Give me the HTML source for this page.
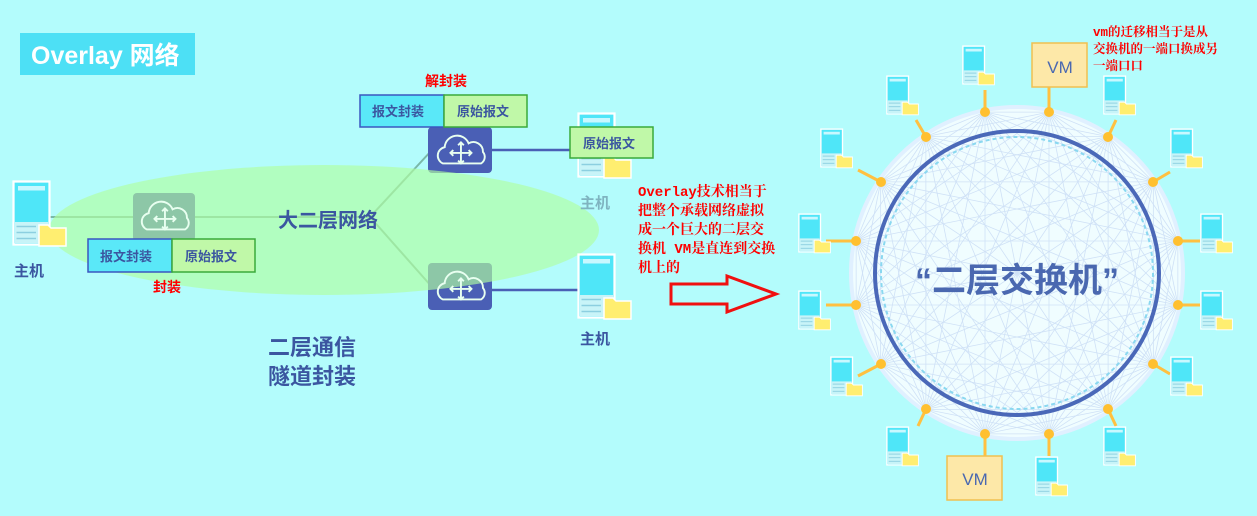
<!DOCTYPE html>
<html><head><meta charset="utf-8"><style>
html,body{margin:0;padding:0;background:#b3fcfc;}
body{width:1257px;height:516px;overflow:hidden;position:relative;font-family:"Liberation Sans","Noto Sans CJK SC",sans-serif;}
svg{position:absolute;left:0;top:0}
.red{position:absolute;color:#f00;font-family:"Liberation Mono","Noto Serif CJK SC",serif;font-weight:bold;}
</style></head><body>
<svg width="1257" height="516" viewBox="0 0 1257 516">
<defs>
<symbol id="host" viewBox="0 0 40 44" overflow="visible">
 <rect x="1" y="1" width="24" height="42" fill="#4fe6f8" stroke="#fff" stroke-width="1.5"/>
 <rect x="4" y="4" width="18" height="3" fill="#c8f8ff"/>
 <rect x="2" y="28" width="22" height="14" fill="#c8f4f8"/>
 <line x1="3" y1="31" x2="16" y2="31" stroke="#8ccfe0"/><line x1="3" y1="35" x2="16" y2="35" stroke="#8ccfe0"/><line x1="3" y1="39" x2="16" y2="39" stroke="#8ccfe0"/>
 <path d="M18 30 h6 l2 2 h10 v12 h-18z" fill="#ffee70" stroke="#fff" stroke-width="1"/>
</symbol>
<symbol id="cloud" viewBox="0 0 64 46">
 <path d="M14 36 a9 9 0 0 1 2-17 a13 13 0 0 1 25-4 a10 10 0 0 1 15 9 a8 8 0 0 1-2 12 z" fill="none" stroke="#e8fff0" stroke-width="2"/>
 <g stroke="#e8fff0" stroke-width="2" fill="none"><line x1="33" y1="14" x2="33" y2="36"/><line x1="22" y1="25" x2="44" y2="25"/>
 <path d="M30 17 l3-3 3 3 M30 33 l3 3 3-3 M25 22 l-3 3 3 3 M41 22 l3 3-3 3"/></g>
</symbol>
</defs>
<rect x="20" y="33" width="175" height="42" fill="#4de0f5"/>
<text x="31" y="64" font-size="25" font-weight="bold" fill="#fff" font-family="Liberation Sans,Noto Sans CJK SC,sans-serif">Overlay 网络</text>
<line x1="50" y1="217" x2="370" y2="217" stroke="#7ab8a8" stroke-width="2"/>
<line x1="370" y1="217" x2="432" y2="150" stroke="#7ab8a8" stroke-width="2"/>
<line x1="370" y1="217" x2="432" y2="287" stroke="#7ab8a8" stroke-width="2"/>
<line x1="492" y1="150" x2="575" y2="150" stroke="#4a5fb5" stroke-width="2.5"/>
<line x1="492" y1="290" x2="578" y2="290" stroke="#4a5fb5" stroke-width="2.5"/>
<rect x="133" y="193" width="62" height="48" rx="4" fill="#4a5fb5"/>
<rect x="428" y="127" width="64" height="46" rx="4" fill="#4a5fb5"/>
<rect x="428" y="263" width="64" height="47" rx="4" fill="#4a5fb5"/>
<ellipse cx="324" cy="230" rx="275" ry="65" fill="#b0ffa0" opacity="0.65"/>
<use href="#cloud" x="133" y="195" width="62" height="44"/>
<use href="#cloud" x="428" y="129" width="64" height="44"/>
<use href="#cloud" x="428" y="265" width="64" height="44"/>
<use href="#host" x="12" y="180" width="60" height="66"/>
<use href="#host" x="577" y="112" width="60" height="66"/>
<use href="#host" x="577" y="250" width="60" height="72"/>
<g font-weight="bold" fill="#3b56a0" font-family="Liberation Sans,Noto Sans CJK SC,sans-serif">
<text x="14" y="276" font-size="15">主机</text>
<text x="580" y="208" font-size="15" fill="#7fb4c0">主机</text>
<text x="580" y="344" font-size="15">主机</text>
<text x="278" y="227" font-size="20">大二层网络</text>
<text x="268" y="355" font-size="22">二层通信</text>
<text x="268" y="384" font-size="22">隧道封装</text>
</g>
<g font-size="13" font-weight="bold" fill="#3b56a0" font-family="Liberation Sans,Noto Sans CJK SC,sans-serif">
<rect x="88" y="239" width="84" height="33" fill="#5ae8f8" stroke="#3b56c0" stroke-width="1.5"/><text x="100" y="261">报文封装</text>
<rect x="172" y="239" width="83" height="33" fill="#c0f8a8" stroke="#3aaa3a" stroke-width="1.5"/><text x="185" y="261">原始报文</text>
<rect x="360" y="95" width="84" height="32" fill="#5ae8f8" stroke="#3b56c0" stroke-width="1.5"/><text x="372" y="116">报文封装</text>
<rect x="444" y="95" width="83" height="32" fill="#c0f8a8" stroke="#3aaa3a" stroke-width="1.5"/><text x="457" y="116">原始报文</text>
<rect x="570" y="127" width="83" height="31" fill="#c0f8a8" stroke="#3aaa3a" stroke-width="1.5"/><text x="583" y="148">原始报文</text>
</g>
<path d="M671 284 H727 V276 L776 294 L727 312 V304 H671 Z" fill="none" stroke="#f01010" stroke-width="3"/>
<circle cx="1017" cy="273" r="166" fill="#f0fdff" stroke="#e0f0ff" stroke-width="4"/>
<g id="chords" stroke="#a8c0ec" stroke-width="0.8" fill="none" opacity="0.45"></g>
<circle cx="1017" cy="273" r="136" fill="none" stroke="#8ad8f0" stroke-width="2" stroke-dasharray="4 3"/>
<circle cx="1017" cy="273" r="142" fill="none" stroke="#4a68b8" stroke-width="4"/>
<text x="1017" y="292" text-anchor="middle" font-size="34" font-weight="bold" fill="#4a68b0" font-family="Liberation Sans,Noto Sans CJK SC,sans-serif">“二层交换机”</text>
<g stroke="#ffc040" stroke-width="3">
<line x1="1049" y1="112" x2="1049" y2="87"/><line x1="1108" y1="137" x2="1116" y2="120"/><line x1="1153" y1="182" x2="1170" y2="172"/>
<line x1="1178" y1="241" x2="1200" y2="241"/><line x1="1178" y1="305" x2="1200" y2="305"/><line x1="1153" y1="364" x2="1170" y2="374"/>
<line x1="1108" y1="409" x2="1116" y2="426"/><line x1="1049" y1="434" x2="1049" y2="456"/><line x1="985" y1="434" x2="985" y2="456"/>
<line x1="926" y1="409" x2="918" y2="426"/><line x1="881" y1="364" x2="858" y2="376"/><line x1="856" y1="305" x2="826" y2="305"/>
<line x1="856" y1="241" x2="826" y2="241"/><line x1="881" y1="182" x2="858" y2="170"/><line x1="926" y1="137" x2="916" y2="120"/><line x1="985" y1="112" x2="985" y2="90"/>
</g>
<g fill="#ffc030">
<circle cx="1049" cy="112" r="5"/><circle cx="1108" cy="137" r="5"/><circle cx="1153" cy="182" r="5"/><circle cx="1178" cy="241" r="5"/>
<circle cx="1178" cy="305" r="5"/><circle cx="1153" cy="364" r="5"/><circle cx="1108" cy="409" r="5"/><circle cx="1049" cy="434" r="5"/>
<circle cx="985" cy="434" r="5"/><circle cx="926" cy="409" r="5"/><circle cx="881" cy="364" r="5"/><circle cx="856" cy="305" r="5"/>
<circle cx="856" cy="241" r="5"/><circle cx="881" cy="182" r="5"/><circle cx="926" cy="137" r="5"/><circle cx="985" cy="112" r="5"/>
</g>
<g>
<use href="#host" x="962" y="45" width="36" height="40"/>
<use href="#host" x="886" y="75" width="36" height="40"/>
<use href="#host" x="820" y="128" width="36" height="40"/>
<use href="#host" x="798" y="213" width="36" height="40"/>
<use href="#host" x="798" y="290" width="36" height="40"/>
<use href="#host" x="830" y="356" width="36" height="40"/>
<use href="#host" x="886" y="426" width="36" height="40"/>
<use href="#host" x="1035" y="456" width="36" height="40"/>
<use href="#host" x="1103" y="426" width="36" height="40"/>
<use href="#host" x="1170" y="356" width="36" height="40"/>
<use href="#host" x="1200" y="290" width="36" height="40"/>
<use href="#host" x="1200" y="213" width="36" height="40"/>
<use href="#host" x="1170" y="128" width="36" height="40"/>
<use href="#host" x="1103" y="75" width="36" height="40"/>
</g>
<rect x="1032" y="43" width="55" height="44" fill="#fde8a8" stroke="#f0c050" stroke-width="1.5"/>
<text x="1060" y="73" text-anchor="middle" font-size="17" fill="#4a68b0" font-family="Liberation Sans,sans-serif">VM</text>
<rect x="947" y="456" width="55" height="44" fill="#fde8a8" stroke="#f0c050" stroke-width="1.5"/>
<text x="975" y="485" text-anchor="middle" font-size="17" fill="#4a68b0" font-family="Liberation Sans,sans-serif">VM</text>
</svg>
<div class="red" style="left:153px;top:277px;font-size:14px;font-family:'Noto Sans CJK SC',sans-serif;">封装</div>
<div class="red" style="left:425px;top:71px;font-size:14px;font-family:'Noto Sans CJK SC',sans-serif;">解封装</div>
<div class="red" style="left:638px;top:184px;font-size:14px;line-height:19px;width:160px;">Overlay技术相当于<br>把整个承载网络虚拟<br>成一个巨大的二层交<br>换机 VM是直连到交换<br>机上的</div>
<div class="red" style="left:1093px;top:25px;font-size:12.5px;line-height:17px;width:170px;">vm的迁移相当于是从<br>交换机的一端口换成另<br>一端口口</div>
<script>
var g=document.getElementById('chords'),cx=1017,cy=273,r=164,p=[];
for(var i=0;i<16;i++){var a=(-78.75+22.5*i)*Math.PI/180;p.push([cx+r*Math.cos(a),cy+r*Math.sin(a)]);}
var s='';for(var i=0;i<16;i++)for(var j=i+1;j<16;j++){s+='<line x1="'+p[i][0]+'" y1="'+p[i][1]+'" x2="'+p[j][0]+'" y2="'+p[j][1]+'"/>';}
g.innerHTML=s;
</script>
</body></html>
